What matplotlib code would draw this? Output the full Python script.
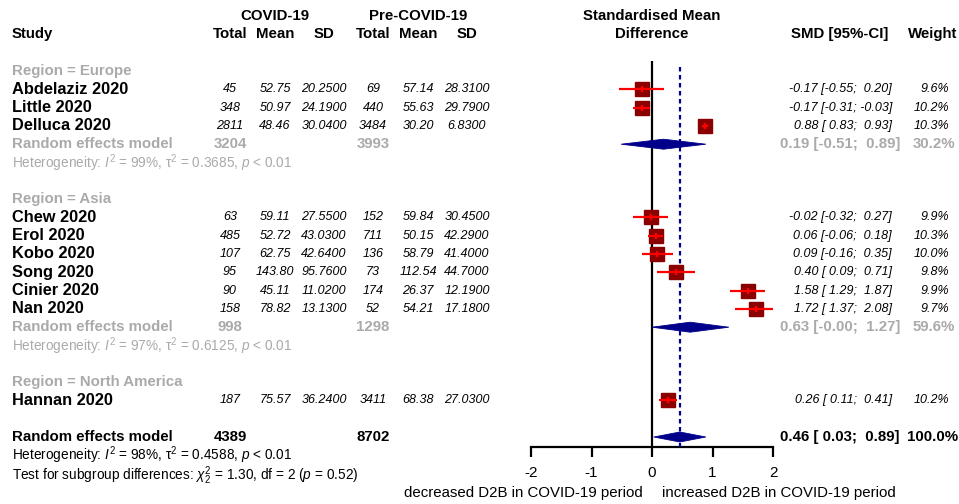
import numpy as np
import matplotlib
matplotlib.use("Agg")
import matplotlib.pyplot as plt

plt.rcParams['font.family'] = ['Liberation Sans', 'DejaVu Sans']
plt.rcParams['mathtext.fontset'] = 'custom'
plt.rcParams['mathtext.rm'] = 'Liberation Sans'
plt.rcParams['mathtext.it'] = 'Liberation Sans:italic'
plt.rcParams['mathtext.bf'] = 'Liberation Sans:bold'

# ---------------- data ----------------
regions = ["Europe", "Asia", "North America"]
studies = ["Abdelaziz 2020", "Little 2020", "Delluca 2020",
           "Chew 2020", "Erol 2020", "Kobo 2020", "Song 2020", "Cinier 2020", "Nan 2020",
           "Hannan 2020"]
study_region = ["Europe", "Europe", "Europe",
                "Asia", "Asia", "Asia", "Asia", "Asia", "Asia",
                "North America"]
covid_total = [45, 348, 2811, 63, 485, 107, 95, 90, 158, 187]
covid_mean = [52.75, 50.97, 48.46, 59.11, 52.72, 62.75, 143.80, 45.11, 78.82, 75.57]
covid_sd = [20.25, 24.19, 30.04, 27.55, 43.03, 42.64, 95.76, 11.02, 13.13, 36.24]
pre_total = [69, 440, 3484, 152, 711, 136, 73, 174, 52, 3411]
pre_mean = [57.14, 55.63, 30.20, 59.84, 50.15, 58.79, 112.54, 26.37, 54.21, 68.38]
pre_sd = [28.31, 29.79, 6.83, 30.45, 42.29, 41.40, 44.70, 12.19, 17.18, 27.03]
smd = [-0.17, -0.17, 0.88, -0.02, 0.06, 0.09, 0.40, 1.58, 1.72, 0.26]
ci_lo = [-0.55, -0.31, 0.83, -0.32, -0.06, -0.16, 0.09, 1.29, 1.37, 0.11]
ci_hi = [0.20, -0.03, 0.93, 0.27, 0.18, 0.35, 0.71, 1.87, 2.08, 0.41]
weight = [9.6, 10.2, 10.3, 9.9, 10.3, 10.0, 9.8, 9.9, 9.7, 10.2]

# subgroup random effects (None for single-study region)
sub_smd = [0.19, 0.63, None]
sub_lo = [-0.51, -0.00, None]
sub_hi = [0.89, 1.27, None]
sub_weight = [30.2, 59.6, None]
sub_covid_total = [3204, 998, None]
sub_pre_total = [3993, 1298, None]
sub_i2 = [99, 97, None]
sub_tau2 = [0.3685, 0.6125, None]

overall_smd = 0.46
overall_lo = 0.03
overall_hi = 0.89
overall_covid_total = 4389
overall_pre_total = 8702
overall_i2 = 98
overall_tau2 = 0.4588
subgroup_chi2 = 1.30
subgroup_df = 2
subgroup_p = 0.52

xticks = [-2, -1, 0, 1, 2]

# ---------------- figure ----------------
W, H = 959, 504
fig = plt.figure(figsize=(W / 100, H / 100), dpi=100)
ax = fig.add_axes([0, 0, 1, 1])
ax.set_xlim(0, W)
ax.set_ylim(H, 0)
ax.axis('off')

X_M2, X_P2 = 531, 773  # pixel positions of -2 and +2
fa = fig.add_axes([X_M2 / W, 0, (X_P2 - X_M2) / W, 1])
fa.set_xlim(-2, 2)
fa.set_ylim(H, 0)
fa.patch.set_alpha(0)
for s in ['top', 'right', 'left']:
    fa.spines[s].set_visible(False)
fa.spines['bottom'].set_position(('data', 447))
fa.spines['bottom'].set_linewidth(1.6)
fa.set_yticks([])
fa.set_xticks(xticks)
fa.set_xticklabels([str(t) for t in xticks], fontsize=11)
fa.tick_params(axis='x', length=7.5, width=1.6, pad=6)
fa.spines['bottom'].set_clip_on(False)


def row_y(k):
    return 16.1 + 18.3 * k


GREY = '#AAAAAA'
SQ = '#8B0000'
CI = '#FF0000'
DIA = '#00008B'

# column anchors
C_TOT, C_MEAN, C_SD = 230, 275, 324
P_TOT, P_MEAN, P_SD = 373, 418, 467
R_SMD, R_SMD_B = 892, 900
R_W, R_W_B = 949, 955

# headers
hb = dict(fontsize=10.8, fontweight='bold', va='center')
ax.text(C_MEAN, row_y(0), "COVID-19", ha='center', **hb)
ax.text(P_MEAN, row_y(0), "Pre-COVID-19", ha='center', **hb)
ax.text(12, row_y(1), "Study", ha='left', **hb)
for x, t in [(C_TOT, "Total"), (C_MEAN, "Mean"), (C_SD, "SD"),
             (P_TOT, "Total"), (P_MEAN, "Mean"), (P_SD, "SD")]:
    ax.text(x, row_y(1), t, ha='center', **hb)
ax.text(652, row_y(0), "Standardised Mean", ha='center', **hb)
ax.text(652, row_y(1), "Difference", ha='center', **hb)
ax.text(888, row_y(1), "SMD [95%-CI]", ha='right', **hb)
ax.text(957, row_y(1), "Weight", ha='right', **hb)

num = dict(fontsize=9, style='italic', va='center')


def fmt_ci(e, l, h):
    lo = f"{l:.2f}"
    hi = f"{h:.2f}"
    lo = lo if lo.startswith('-') else " " + lo
    hi = hi if hi.startswith('-') else " " + hi
    return f"{e:.2f} [{lo}; {hi}]"


def square_side(w):
    return 14.5 * np.sqrt(w / 10.0) * 0.72  # points


def diamond(y, e, l, h, half=5):
    fa.fill([l, e, h, e], [y, y - half, y, y + half], color=DIA, lw=0.6,
            ec=DIA, zorder=4)


k = 3
for gi, reg in enumerate(regions):
    ax.text(12, row_y(k), f"Region = {reg}", ha='left', color=GREY,
            fontsize=10.8, fontweight='bold', va='center')
    k += 1
    idx = [i for i, r in enumerate(study_region) if r == reg]
    for i in idx:
        y = row_y(k)
        ax.text(12, y, studies[i], ha='left', fontsize=11.8, fontweight='bold', va='center')
        ax.text(C_TOT, y, f"{covid_total[i]}", ha='center', **num)
        ax.text(C_MEAN, y, f"{covid_mean[i]:.2f}", ha='center', **num)
        ax.text(C_SD, y, f"{covid_sd[i]:.4f}", ha='center', **num)
        ax.text(P_TOT, y, f"{pre_total[i]}", ha='center', **num)
        ax.text(P_MEAN, y, f"{pre_mean[i]:.2f}", ha='center', **num)
        ax.text(P_SD, y, f"{pre_sd[i]:.4f}", ha='center', **num)
        ax.text(R_SMD, y, fmt_ci(smd[i], ci_lo[i], ci_hi[i]), ha='right', **num)
        ax.text(R_W, y, f"{weight[i]:.1f}%", ha='right', **num)
        fa.plot([smd[i]], [y], marker='s', ms=square_side(weight[i]), color=SQ,
                mec=SQ, ls='none', zorder=5)
        fa.plot([ci_lo[i], ci_hi[i]], [y, y], color=CI, lw=1.6, zorder=6,
                solid_capstyle='butt')
        fa.plot([smd[i]], [y], marker='|', ms=4.5, mew=1.6, color=CI, zorder=7)
        k += 1
    if sub_smd[gi] is not None:
        y = row_y(k)
        gb = dict(fontsize=10.8, fontweight='bold', color=GREY, va='center')
        ax.text(12, y, "Random effects model", ha='left', **gb)
        ax.text(C_TOT, y, f"{sub_covid_total[gi]}", ha='center', **gb)
        ax.text(P_TOT, y, f"{sub_pre_total[gi]}", ha='center', **gb)
        ax.text(R_SMD_B, y, fmt_ci(sub_smd[gi], sub_lo[gi], sub_hi[gi]), ha='right', **gb)
        ax.text(R_W_B, y, f"{sub_weight[gi]:.1f}%", ha='right', **gb)
        diamond(y, sub_smd[gi], sub_lo[gi], sub_hi[gi])
        k += 1
        ax.text(12, row_y(k) + 0.5,
                f"Heterogeneity: $I^2$ = {sub_i2[gi]}%, τ$^2$ = {sub_tau2[gi]:.4f}, $p$ < 0.01",
                ha='left', va='center', fontsize=9.8, color=GREY)
        k += 1
    k += 1

# overall
y = row_y(23)
ob = dict(fontsize=10.8, fontweight='bold', va='center')
ax.text(12, y, "Random effects model", ha='left', **ob)
ax.text(C_TOT, y, f"{overall_covid_total}", ha='center', **ob)
ax.text(P_TOT, y, f"{overall_pre_total}", ha='center', **ob)
ax.text(R_SMD_B, y, fmt_ci(overall_smd, overall_lo, overall_hi), ha='right', **ob)
ax.text(R_W_B + 3, y, "100.0%", ha='right', **ob)
diamond(y, overall_smd, overall_lo, overall_hi)
ax.text(12, 455.5,
        f"Heterogeneity: $I^2$ = {overall_i2}%, τ$^2$ = {overall_tau2:.4f}, $p$ < 0.01",
        ha='left', va='center', fontsize=9.8)
ax.text(12, 475.5,
        f"Test for subgroup differences: $\\chi^2_{{{subgroup_df}}}$ = {subgroup_chi2:.2f}, "
        f"df = {subgroup_df} ($p$ = {subgroup_p:.2f})",
        ha='left', va='center', fontsize=9.8)

# reference lines
fa.plot([0, 0], [61, 447], color='black', lw=1.6, zorder=3, solid_capstyle='butt')
fa.plot([overall_smd, overall_smd], [67, 447], color=DIA, lw=1.6, zorder=3,
        ls=(0, (2.0, 1.6)))

# bottom labels
ax.text(643, 493, "decreased D2B in COVID-19 period", ha='right', va='center', fontsize=10.8)
ax.text(662, 493, "increased D2B in COVID-19 period", ha='left', va='center', fontsize=10.8)

fig.savefig("out.png", dpi=100)
